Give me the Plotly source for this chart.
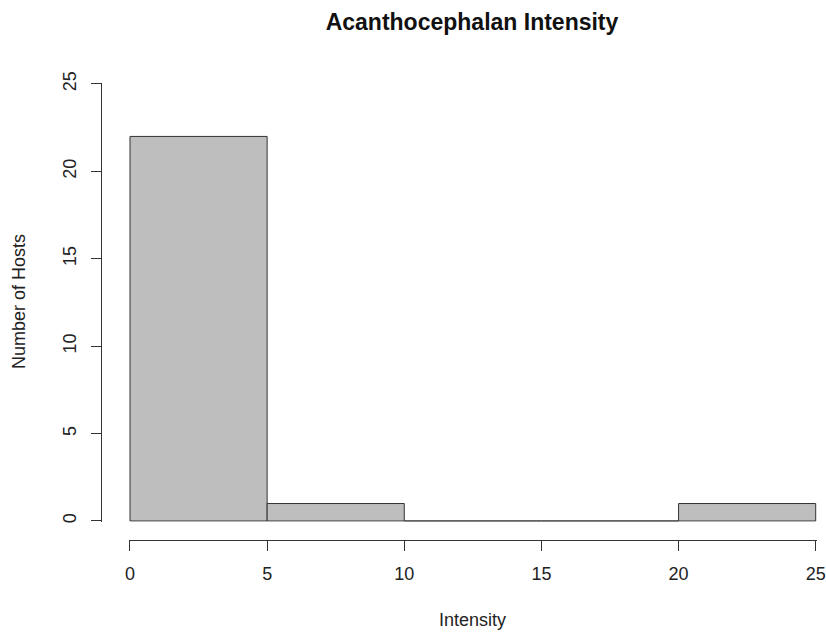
import plotly.graph_objects as go

bin_edges = [0, 5, 10, 15, 20, 25]
counts = [22, 1, 0, 0, 1]
x_ticks = [0, 5, 10, 15, 20, 25]
y_ticks = [0, 5, 10, 15, 20, 25]
title_text = "Acanthocephalan Intensity"
x_title = "Intensity"
y_title = "Number of Hosts"

W, H = 826, 632
centers = [(a + b) / 2 for a, b in zip(bin_edges[:-1], bin_edges[1:])]
widths = [b - a for a, b in zip(bin_edges[:-1], bin_edges[1:])]


def px_x(p):  # window pixel -> paper fraction
    return p / W


def px_y(p):
    return 1 - p / H


# pixel geometry in window coordinates (R base graphics look)
x0_px, x25_px = 130.0, 815.7
y0_px, y25_px = 521.0, 84.0
pad = 0.05
xpu = (x25_px - x0_px) / 25
ypu = (y0_px - y25_px) / 25
xdom = [px_x(x0_px - pad * xpu), px_x(x25_px + pad * xpu)]
ydom = [px_y(y0_px + pad * ypu), px_y(y25_px - pad * ypu)]

axis_col = "#333333"
font_fam = "Liberation Sans, Arial, sans-serif"

fig = go.Figure()
fig.add_trace(go.Bar(
    x=centers, y=counts, width=widths,
    marker=dict(color="#BEBEBE", line=dict(color=axis_col, width=1)),
    hoverinfo="x+y",
))

fig.update_layout(
    width=W, height=H,
    margin=dict(l=0, r=0, t=0, b=0, autoexpand=False),
    paper_bgcolor="white", plot_bgcolor="white",
    showlegend=False,
    font=dict(family=font_fam, size=18, color="#222222"),
    xaxis=dict(
        domain=xdom, range=[-pad, 25 + pad], anchor="free",
        position=px_y(539.5), automargin=False,
        tickmode="array", tickvals=x_ticks, ticktext=[str(v) for v in x_ticks],
        showline=True, linecolor=axis_col, linewidth=1,
        ticks="outside", ticklen=10, tickcolor=axis_col, tickwidth=1,
        showgrid=False, zeroline=False, ticklabelstandoff=8,
    ),
    yaxis=dict(
        domain=ydom, range=[-pad, 25 + pad], anchor="free",
        position=px_x(101), automargin=False,
        tickmode="array", tickvals=y_ticks, ticktext=[str(v) for v in y_ticks],
        tickangle=-90,
        showline=True, linecolor=axis_col, linewidth=1,
        ticks="outside", ticklen=10, tickcolor=axis_col, tickwidth=1,
        showgrid=False, zeroline=False, ticklabelstandoff=8,
    ),
    title=dict(
        text=title_text, x=px_x(472), xanchor="center",
        y=px_y(22), yanchor="middle",
        font=dict(family=font_fam, size=23, color="#111111", weight="bold"),
    ),
    annotations=[
        dict(text=x_title, xref="paper", yref="paper", x=px_x(472), y=px_y(620),
             xanchor="center", yanchor="middle", showarrow=False,
             font=dict(size=18, color="#222222")),
        dict(text=y_title, xref="paper", yref="paper", x=px_x(19), y=px_y(302),
             xanchor="center", yanchor="middle", showarrow=False, textangle=-90,
             font=dict(size=18, color="#222222")),
    ],
)

fig.write_html(
    "out.html",
    config={"displayModeBar": False},
    post_script="document.body.style.margin='0';document.body.style.overflow='hidden';",
)
